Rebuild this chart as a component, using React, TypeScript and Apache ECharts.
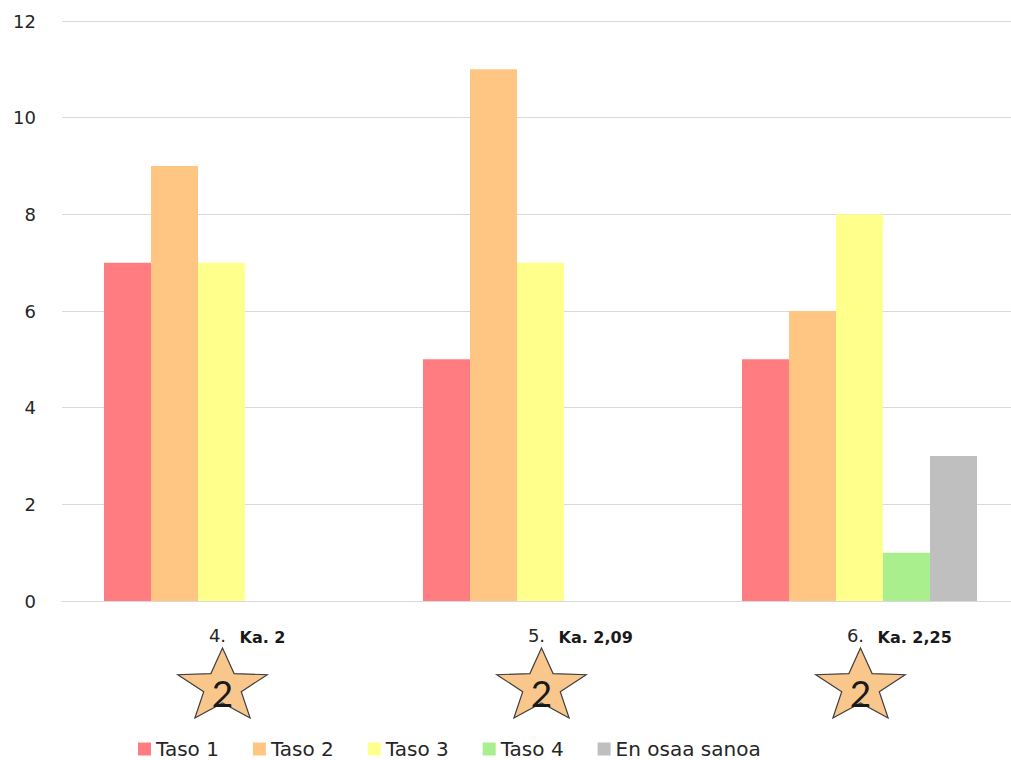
import React, { useEffect, useRef } from "react";
import * as echarts from "echarts";

const categories = ["4.", "5.", "6."];
const averages = ["Ka. 2", "Ka. 2,09", "Ka. 2,25"];
const starLabels = ["2", "2", "2"];
const seriesNames = ["Taso 1", "Taso 2", "Taso 3", "Taso 4", "En osaa sanoa"];
const taso1 = [7, 5, 5];
const taso2 = [9, 11, 6];
const taso3 = [7, 7, 8];
const taso4 = [0, 0, 1];
const enOsaa = [0, 0, 3];
const yTicks = [0, 2, 4, 6, 8, 10, 12];

const colors = ["#FF7C80", "#FFC683", "#FFFF8C", "#A9EF8E", "#BFBFBF"];
const FONT = "'DejaVu Sans', sans-serif";

function starPoints(cx: number, cy: number, rx: number, ry: number, inner: number) {
  const pts: number[][] = [];
  for (let k = 0; k < 10; k++) {
    const ang = -Math.PI / 2 + (k * Math.PI) / 5;
    const f = k % 2 === 0 ? 1 : inner;
    pts.push([cx + Math.cos(ang) * rx * f, cy + Math.sin(ang) * ry * f]);
  }
  return pts;
}

export default function App() {
  const ref = useRef<HTMLDivElement>(null);
  useEffect(() => {
    if (!ref.current) return;
    const chart = echarts.init(ref.current, undefined, { renderer: "svg" });
    const data = [taso1, taso2, taso3, taso4, enOsaa];
    chart.setOption({
      animation: false,
      backgroundColor: "#ffffff",
      grid: { left: 62, top: 21, width: 957, bottom: 159, containLabel: false, outerBoundsMode: "none" },
      legend: {
        data: seriesNames,
        left: 133,
        top: 733,
        icon: "rect",
        itemWidth: 13,
        itemHeight: 13,
        itemGap: 34,
        textStyle: { fontFamily: FONT, fontSize: 20, color: "#262626", lineHeight: 22 },
      },
      xAxis: {
        type: "category",
        data: categories,
        axisLine: { show: true, lineStyle: { color: "#D9D9D9", width: 1 } },
        axisTick: { show: false },
        axisLabel: {
          fontFamily: FONT,
          fontSize: 18,
          color: "#262626",
          margin: 25,
          padding: [0, 8, 0, 0],
        },
      },
      yAxis: {
        type: "value",
        min: yTicks[0],
        max: yTicks[yTicks.length - 1],
        interval: 2,
        axisLine: { show: false },
        axisTick: { show: false },
        splitLine: { lineStyle: { color: "#D9D9D9", width: 1 } },
        axisLabel: { fontFamily: FONT, fontSize: 18, color: "#262626", margin: 26 },
      },
      series: seriesNames.map((name, i) => ({
        name,
        type: "bar",
        data: data[i],
        barWidth: 47,
        barGap: "0%",
        itemStyle: { color: colors[i] },
      })),
    });

    const centers = categories.map((c) => chart.convertToPixel({ xAxisIndex: 0 }, c) as number);
    const graphic: any[] = [];
    centers.forEach((cx, i) => {
      graphic.push({
        type: "text",
        x: cx + 18,
        y: 637,
        style: {
          text: averages[i],
          fontFamily: FONT,
          fontSize: 16,
          fontWeight: "bold",
          fill: "#1a1a1a",
          verticalAlign: "middle",
          align: "left",
        },
      });
      graphic.push({
        type: "polygon",
        shape: { points: starPoints(cx + 1, 686.7, 47, 38.7, 0.42) },
        style: { fill: "#F9C68C", stroke: "#404040", lineWidth: 1.2 },
      });
      graphic.push({
        type: "text",
        x: cx + 1,
        y: 692,
        style: {
          text: starLabels[i],
          fontFamily: "Lato, sans-serif",
          fontSize: 37,
          fill: "#1a1a1a",
          align: "center",
          verticalAlign: "middle",
        },
      });
    });
    chart.setOption({ graphic });

    return () => chart.dispose();
  }, []);
  return (
    <div
      ref={ref}
      style={{ position: "absolute", left: 0, top: 0, width: 1011, height: 760, background: "#fff" }}
    />
  );
}
